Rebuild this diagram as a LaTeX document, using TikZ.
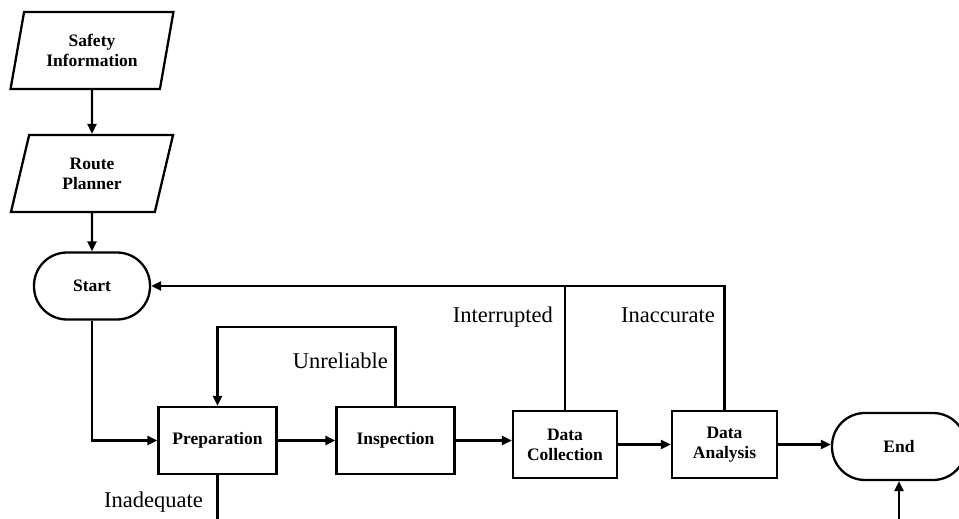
\documentclass[tikz,border=0pt]{standalone}
\usepackage{fontspec}
\setmainfont{Liberation Serif}
\usetikzlibrary{shapes.geometric,arrows.meta}

\begin{document}
\begin{tikzpicture}
        [x=1pt, y=-1pt,
        proc/.style={rectangle, draw, line width=2.3pt, minimum width=118, minimum height=67,
            align=center, font=\fontsize{17.5}{20}\selectfont\bfseries},
        io/.style={trapezium, trapezium left angle=76, trapezium right angle=104,
            trapezium stretches=true, draw, line width=2.3pt, minimum width=163, minimum height=77,
            align=center, font=\fontsize{17.5}{20}\selectfont\bfseries},
        term/.style={rectangle, rounded corners=33, draw, line width=2.3pt, minimum height=67,
            align=center, font=\fontsize{17.5}{20}\selectfont\bfseries},
        flow/.style={line width=2.3pt, black},
        arr/.style={flow, -{Triangle[length=10pt, width=9pt]}},
        lab/.style={anchor=base east, inner sep=0, font=\fontsize{22.5}{26}\selectfont}]

        \useasboundingbox (0,0) rectangle (959,519);
        \clip (0,0) rectangle (959,519);

        \node[io] (sinfo) at (92,50.5) {Safety\\Information};
        \node[io] (route) at (92,173.5) {Route\\Planner};
        \node[term, minimum width=116] (start) at (92,286) {Start};
        \node[proc] (prep) at (217.5,440.5) {Preparation};
        \node[proc] (insp) at (395.5,440.5) {Inspection};
        \node[proc, minimum width=104] (dcol) at (565,444.5) {Data\\Collection};
        \node[proc, minimum width=105] (dana) at (724.5,444.5) {Data\\Analysis};
        \node[term, minimum width=134] (end) at (899,446.5) {End};

        % free ends at the bottom
        \coordinate (inad) at (217.5,530);
        \coordinate (endin) at (899,530);
        \coordinate (unrel) at (395.5,327);

        % main flow
        \draw[arr] (sinfo) -- (route);
        \draw[arr] (route) -- (start);
        \draw[arr] (start.south) |- (prep.west);
        \draw[arr] (prep) -- (insp);
        \draw[arr] (insp.east) -- (insp.east -| dcol.west);
        \draw[arr] (dcol) -- (dana);
        \draw[arr] (dana.east) -- (dana.east -| end.west);
        \draw[arr] (endin) -- (end.south);
        \draw[flow] (prep.south) -- (inad);

        % loops back
        \draw[arr] (insp.north) -- (unrel) -| (prep.north);
        \draw[arr] (dana.north) |- (start.east);
        \draw[flow] (dcol.north) -- (dcol.north |- start.east);

        % labels
        \node[lab] (l1) at (388,368) {Unreliable};
        \node[lab] (l2) at (553,322) {Interrupted};
        \node[lab] (l3) at (715,322) {Inaccurate};
        \node[lab] (l4) at (203,507) {Inadequate};

    \end{tikzpicture}
\end{document}
